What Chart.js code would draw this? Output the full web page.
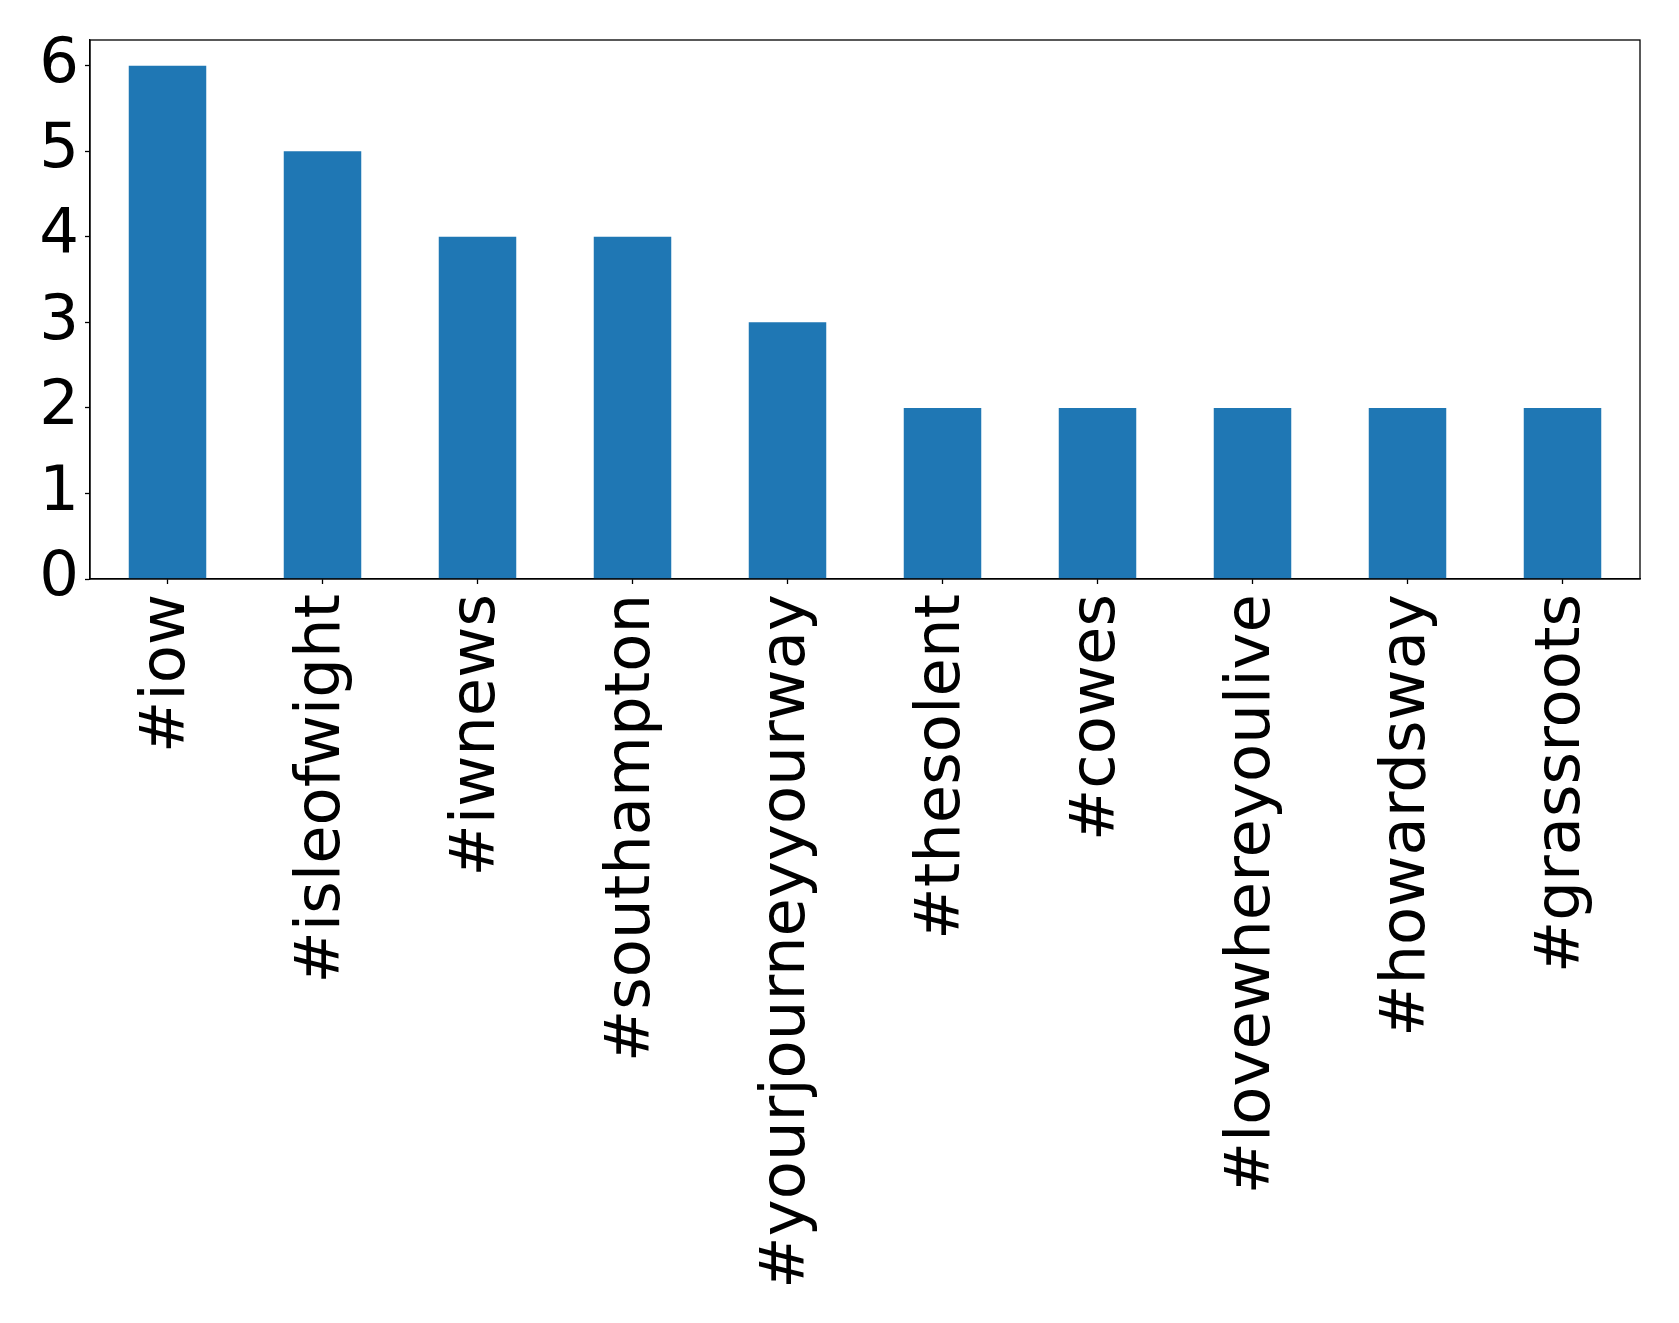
<!DOCTYPE html>
<html>
<head>
<meta charset="utf-8">
<script src="https://cdn.jsdelivr.net/npm/chart.js@4/dist/chart.umd.min.js"></script>
<style>
  html, body { margin: 0; padding: 0; background: #fff; }
  #wrap { width: 1679px; height: 1323px; }
</style>
</head>
<body>
<div id="wrap"><canvas id="myChart"></canvas></div>
<script>
var hashtags = ['#iow', '#isleofwight', '#iwnews', '#southampton', '#yourjourneyyourway',
                '#thesolent', '#cowes', '#lovewhereyoulive', '#howardsway', '#grassroots'];
var counts = [6, 5, 4, 4, 3, 2, 2, 2, 2, 2];
var yTicks = [0, 1, 2, 3, 4, 5, 6];

// matplotlib style box round the plot area
var boxPlugin = {
    id: 'box',
    afterDraw: function(chart){
        var a = chart.chartArea, ctx = chart.ctx;
        ctx.save();
        ctx.strokeStyle = '#000';
        ctx.lineWidth = 1.3;
        ctx.strokeRect(a.left, a.top, a.right - a.left, a.bottom - a.top);
        ctx.restore();
    }
};

var ctx = document.getElementById('myChart').getContext('2d');
var chart = new Chart(ctx, {
    type: 'bar',
    data: {
        labels: hashtags,
        datasets: [{
            data: counts,
            backgroundColor: '#1f77b4',
            borderWidth: 0,
            barPercentage: 0.5,
            categoryPercentage: 1.0
        }]
    },
    options: {
        responsive: true,
        maintainAspectRatio: false,
        animation: false,
        layout: { padding: { left: 0, top: 40, right: 39, bottom: 0 } },
        plugins: { legend: { display: false }, tooltip: { enabled: false } },
        scales: {
            x: {
                offset: true,
                grid: { display: true, offset: false, drawOnChartArea: false, drawTicks: true, tickLength: 5, color: '#000', tickWidth: 1.3 },
                border: { display: true, color: '#000', width: 1.3 },
                ticks: {
                    color: '#000',
                    font: { family: 'DejaVu Sans', size: 62.5 },
                    minRotation: 90,
                    maxRotation: 90,
                    autoSkip: false,
                    padding: 10
                },
                afterFit: function(scale){ scale.height = 744; }
            },
            y: {
                min: 0,
                max: 6.3,
                grid: { display: true, drawOnChartArea: false, drawTicks: true, tickLength: 5, color: '#000', tickWidth: 1.3 },
                border: { display: true, color: '#000', width: 1.3 },
                ticks: {
                    stepSize: 1,
                    color: '#000',
                    font: { family: 'DejaVu Sans', size: 62.5, lineHeight: 0.8 },
                    padding: 6
                },
                afterBuildTicks: function(scale){
                    scale.ticks = yTicks.map(function(v){ return { value: v }; });
                },
                afterFit: function(scale){ scale.width = 90; }
            }
        }
    },
    plugins: [boxPlugin]
});
</script>
</body>
</html>
